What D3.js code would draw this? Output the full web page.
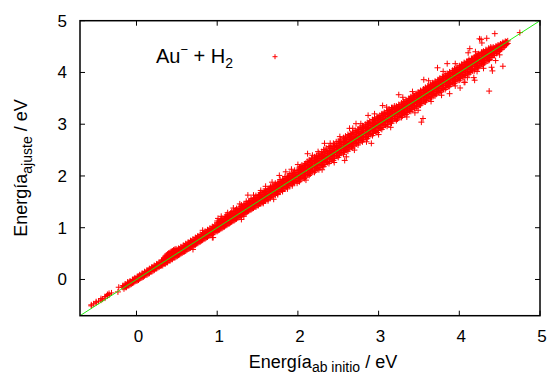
<!DOCTYPE html>
<html>
<head>
<meta charset="utf-8">
<script src="https://cdn.jsdelivr.net/npm/d3@7/dist/d3.min.js"></script>
<style>
  body { margin: 0; background: #fff; }
  text { font-family: "Liberation Sans", Arial, sans-serif; fill: #000; }
</style>
</head>
<body>
<svg id="chart" width="549" height="374"></svg>
<script>
// axis ticks
const xTicks = [0, 1, 2, 3, 4, 5];
const yTicks = [0, 1, 2, 3, 4, 5];
const domain = [-0.7, 5];
const diagonal = [-0.7, 5];

// dense band, one row per ab initio energy: [abInitio, ajuste, ajuste, ...]
const bandRows = [
  [-0.56, -0.51, -0.49], [-0.53, -0.47], [-0.50, -0.45, -0.43], [-0.47, -0.42],
  [-0.44, -0.40, -0.37], [-0.42, -0.38], [-0.39, -0.33, -0.36], [-0.36, -0.31, -0.29],
  [-0.34, -0.27, -0.30], [-0.31, -0.26],
  [-0.17, -0.15, -0.12], [-0.14, -0.12, -0.09, -0.15], [-0.11, -0.08, -0.12, -0.05],
  [-0.08, -0.06, -0.10, -0.03], [-0.05, -0.02, -0.07, 0.00], [-0.02, 0.01, -0.04, 0.03],
  [0.01, 0.03, -0.02, 0.06], [0.04, 0.06, 0.01, 0.09, 0.03], [0.07, 0.09, 0.04, 0.12],
  [0.10, 0.12, 0.07, 0.15, 0.09], [0.13, 0.14, 0.09, 0.18], [0.16, 0.17, 0.12, 0.21, 0.15],
  [0.19, 0.21, 0.15, 0.24], [0.22, 0.23, 0.18, 0.27, 0.20], [0.25, 0.27, 0.21, 0.30],
  [0.28, 0.30, 0.24, 0.33, 0.27], [0.31, 0.33, 0.27, 0.37, 0.29], [0.34, 0.37, 0.30, 0.41, 0.33],
  [0.37, 0.40, 0.33, 0.44, 0.47], [0.40, 0.44, 0.36, 0.48, 0.51, 0.41],
  [0.43, 0.47, 0.39, 0.52, 0.54, 0.44], [0.46, 0.49, 0.42, 0.54, 0.57, 0.46],
  [0.49, 0.52, 0.44, 0.56, 0.59, 0.50], [0.52, 0.55, 0.47, 0.60, 0.53], [0.55, 0.57, 0.50, 0.63, 0.54],
  [0.58, 0.61, 0.53, 0.66, 0.57], [0.61, 0.63, 0.55, 0.69, 0.60], [0.64, 0.67, 0.59, 0.72, 0.63],
  [0.67, 0.70, 0.61, 0.75, 0.66, 0.73], [0.70, 0.72, 0.64, 0.78, 0.69], [0.73, 0.76, 0.67, 0.81, 0.72],
  [0.76, 0.78, 0.70, 0.84, 0.75, 0.82], [0.79, 0.82, 0.73, 0.87, 0.78], [0.82, 0.84, 0.76, 0.90, 0.81, 0.95],
  [0.85, 0.88, 0.79, 0.93, 0.84], [0.88, 0.90, 0.82, 0.96, 0.87], [0.91, 0.94, 0.85, 0.99, 0.90],
  [0.94, 0.96, 0.87, 1.02, 0.93, 0.81], [0.97, 1.00, 0.91, 1.05, 0.96],
  [1.00, 1.03, 0.93, 1.09, 0.99, 1.13], [1.03, 1.06, 0.96, 1.12, 1.02], [1.06, 1.09, 0.99, 1.15, 1.05, 1.18],
  [1.09, 1.12, 1.02, 1.18, 1.08], [1.12, 1.15, 1.05, 1.21, 1.11, 1.25], [1.15, 1.18, 1.08, 1.24, 1.14],
  [1.18, 1.21, 1.11, 1.28, 1.17, 1.31], [1.21, 1.24, 1.14, 1.31, 1.20], [1.24, 1.27, 1.17, 1.34, 1.23, 1.37],
  [1.27, 1.30, 1.20, 1.37, 1.26], [1.30, 1.34, 1.23, 1.41, 1.29, 1.44], [1.33, 1.37, 1.26, 1.44, 1.32, 1.22],
  [1.36, 1.40, 1.29, 1.47, 1.35, 1.51], [1.39, 1.43, 1.32, 1.50, 1.38], [1.42, 1.46, 1.35, 1.53, 1.41, 1.56],
  [1.45, 1.49, 1.38, 1.56, 1.44], [1.48, 1.52, 1.40, 1.59, 1.47, 1.62], [1.51, 1.55, 1.43, 1.62, 1.50],
  [1.54, 1.58, 1.46, 1.65, 1.53, 1.68], [1.57, 1.61, 1.49, 1.68, 1.56, 1.47], [1.60, 1.64, 1.52, 1.71, 1.59, 1.75],
  [1.63, 1.67, 1.55, 1.74, 1.62, 1.52], [1.66, 1.70, 1.58, 1.77, 1.65, 1.80], [1.69, 1.73, 1.61, 1.80, 1.68],
  [1.72, 1.76, 1.63, 1.83, 1.71, 1.86], [1.75, 1.79, 1.66, 1.86, 1.74, 1.64], [1.78, 1.82, 1.69, 1.89, 1.77, 1.93],
  [1.81, 1.85, 1.72, 1.92, 1.80, 1.70], [1.84, 1.88, 1.75, 1.95, 1.83, 1.99], [1.87, 1.91, 1.78, 1.98, 1.86, 1.75],
  [1.90, 1.94, 1.81, 2.01, 1.89, 2.05], [1.93, 1.97, 1.84, 2.04, 1.92, 1.81], [1.96, 2.00, 1.87, 2.07, 1.95, 2.11],
  [1.99, 2.03, 1.90, 2.10, 1.98, 1.86],
  [2.02, 2.07, 1.94, 2.13, 2.00, 2.17, 1.89], [2.05, 2.08, 1.97, 2.15, 2.05, 2.21],
  [2.08, 2.12, 1.98, 2.20, 2.06, 2.23, 1.95], [2.115, 2.14, 2.03, 2.22, 2.11, 2.28],
  [2.14, 2.19, 2.04, 2.26, 2.12, 2.31, 2.01], [2.17, 2.20, 2.09, 2.29, 2.17, 2.34],
  [2.205, 2.25, 2.10, 2.30, 2.19, 2.37, 2.07], [2.23, 2.28, 2.15, 2.35, 2.21, 2.39],
  [2.26, 2.29, 2.16, 2.38, 2.26, 2.44, 2.12], [2.295, 2.34, 2.21, 2.40, 2.28, 2.47],
  [2.32, 2.37, 2.22, 2.45, 2.30, 2.51, 2.18], [2.35, 2.38, 2.27, 2.48, 2.35, 2.54],
  [2.385, 2.43, 2.28, 2.49, 2.37, 2.57, 2.24], [2.41, 2.46, 2.33, 2.54, 2.40, 2.58],
  [2.44, 2.47, 2.34, 2.57, 2.44, 2.63, 2.30], [2.475, 2.52, 2.39, 2.58, 2.46, 2.66],
  [2.50, 2.55, 2.40, 2.63, 2.49, 2.67, 2.36], [2.53, 2.56, 2.45, 2.66, 2.53, 2.71],
  [2.565, 2.61, 2.46, 2.67, 2.55, 2.74, 2.42], [2.59, 2.64, 2.51, 2.72, 2.58, 2.77],
  [2.62, 2.65, 2.52, 2.75, 2.62, 2.80, 2.48], [2.655, 2.70, 2.57, 2.76, 2.64, 2.82],
  [2.68, 2.73, 2.58, 2.81, 2.67, 2.85, 2.54], [2.71, 2.74, 2.63, 2.84, 2.71, 2.88],
  [2.745, 2.79, 2.64, 2.85, 2.73, 2.91, 2.60], [2.77, 2.82, 2.69, 2.90, 2.76, 2.94],
  [2.80, 2.83, 2.70, 2.93, 2.80, 2.97, 2.66], [2.835, 2.88, 2.75, 2.94, 2.82, 3.00],
  [2.86, 2.91, 2.76, 2.99, 2.85, 3.03, 2.72], [2.89, 2.92, 2.81, 3.02, 2.89, 3.06],
  [2.925, 2.97, 2.82, 3.03, 2.91, 3.09, 2.78], [2.95, 3.00, 2.87, 3.08, 2.94, 3.12],
  [2.98, 3.01, 2.88, 3.11, 2.98, 3.14, 2.84], [3.015, 3.06, 2.93, 3.12, 3.00, 3.17],
  [3.04, 3.09, 2.94, 3.17, 3.03, 3.20, 2.90], [3.07, 3.10, 2.99, 3.20, 3.07, 3.23],
  [3.105, 3.15, 3.00, 3.21, 3.09, 3.26, 2.96], [3.13, 3.18, 3.05, 3.26, 3.12, 3.29],
  [3.16, 3.19, 3.06, 3.29, 3.16, 3.32, 3.02], [3.195, 3.24, 3.11, 3.30, 3.18, 3.35],
  [3.22, 3.25, 3.10, 3.31, 3.21, 3.35, 3.07], [3.25, 3.29, 3.15, 3.34, 3.24, 3.38],
  [3.285, 3.31, 3.17, 3.38, 3.27, 3.41, 3.13], [3.31, 3.35, 3.21, 3.40, 3.30, 3.44],
  [3.34, 3.37, 3.23, 3.44, 3.33, 3.47, 3.19], [3.375, 3.42, 3.27, 3.46, 3.36, 3.50],
  [3.40, 3.43, 3.29, 3.50, 3.39, 3.53, 3.25], [3.43, 3.47, 3.33, 3.52, 3.42, 3.56],
  [3.465, 3.49, 3.35, 3.56, 3.45, 3.59, 3.31], [3.49, 3.53, 3.39, 3.58, 3.48, 3.62],
  [3.52, 3.55, 3.41, 3.62, 3.51, 3.65, 3.37], [3.555, 3.60, 3.45, 3.64, 3.54, 3.68],
  [3.58, 3.61, 3.47, 3.68, 3.57, 3.71, 3.43], [3.61, 3.65, 3.51, 3.70, 3.60, 3.74],
  [3.645, 3.67, 3.53, 3.74, 3.63, 3.77, 3.49], [3.67, 3.71, 3.57, 3.76, 3.66, 3.80],
  [3.70, 3.73, 3.59, 3.80, 3.69, 3.83, 3.55], [3.735, 3.78, 3.63, 3.82, 3.72, 3.86],
  [3.76, 3.79, 3.65, 3.86, 3.75, 3.89, 3.61], [3.79, 3.83, 3.69, 3.88, 3.78, 3.92],
  [3.825, 3.85, 3.71, 3.92, 3.81, 3.95, 3.67], [3.85, 3.89, 3.75, 3.94, 3.84, 3.98],
  [3.88, 3.91, 3.77, 3.98, 3.87, 4.01, 3.73], [3.915, 3.96, 3.81, 4.00, 3.90, 4.04],
  [3.94, 3.97, 3.83, 4.04, 3.93, 4.07, 3.79], [3.97, 4.01, 3.87, 4.06, 3.96, 4.10],
  [4.005, 4.03, 3.89, 4.10, 3.99, 4.13, 3.85], [4.03, 4.07, 3.93, 4.12, 4.02, 4.16],
  [4.06, 4.09, 3.95, 4.16, 4.05, 4.19, 3.91], [4.095, 4.14, 3.99, 4.18, 4.08, 4.22],
  [4.12, 4.15, 4.01, 4.22, 4.11, 4.25, 3.97], [4.15, 4.19, 4.05, 4.24, 4.14, 4.27],
  [4.185, 4.21, 4.07, 4.28, 4.17, 4.30, 4.03], [4.21, 4.25, 4.11, 4.30, 4.20, 4.33],
  [4.24, 4.27, 4.13, 4.34, 4.23, 4.36, 4.09], [4.275, 4.32, 4.17, 4.36, 4.26, 4.39],
  [4.30, 4.33, 4.19, 4.39, 4.29, 4.41, 4.16], [4.33, 4.37, 4.24, 4.41, 4.32, 4.44],
  [4.365, 4.39, 4.26, 4.44, 4.35, 4.47, 4.23], [4.39, 4.42, 4.30, 4.46, 4.38, 4.49],
  [4.42, 4.45, 4.33, 4.49, 4.41, 4.37], [4.455, 4.48, 4.37, 4.51, 4.44],
  [4.48, 4.50, 4.40, 4.53, 4.46], [4.51, 4.53, 4.44, 4.55, 4.49],
  [4.54, 4.56, 4.48, 4.58], [4.57, 4.58, 4.52, 4.60], [4.60, 4.61, 4.56]
];

// more band points between the rows above (same layout)
const bandFillRows = [
  [-0.155, -0.18, -0.14, -0.12], [-0.125, -0.15, -0.11], [-0.095, -0.12, -0.09, -0.06], [-0.065, -0.09, -0.05],
  [-0.035, -0.06, -0.03, 0.00], [-0.005, -0.03, 0.01], [0.025, -0.01, 0.02, 0.06], [0.055, 0.03, 0.07],
  [0.085, 0.05, 0.08, 0.11], [0.115, 0.09, 0.12], [0.145, 0.11, 0.15, 0.18], [0.175, 0.15, 0.19],
  [0.205, 0.17, 0.21, 0.24], [0.235, 0.21, 0.25], [0.265, 0.23, 0.27, 0.30], [0.295, 0.26, 0.31],
  [0.325, 0.27, 0.31, 0.35, 0.38], [0.355, 0.30, 0.34, 0.38, 0.42, 0.45], [0.385, 0.33, 0.37, 0.42, 0.46, 0.49],
  [0.415, 0.36, 0.40, 0.45, 0.49, 0.52], [0.445, 0.39, 0.43, 0.48, 0.52, 0.55], [0.475, 0.42, 0.46, 0.51, 0.55, 0.58],
  [0.505, 0.45, 0.49, 0.53, 0.57], [0.535, 0.48, 0.52, 0.56, 0.59], [0.565, 0.51, 0.55, 0.59, 0.62],
  [0.595, 0.54, 0.58, 0.62, 0.65], [0.625, 0.57, 0.61, 0.65, 0.68], [0.655, 0.60, 0.64, 0.68, 0.71],
  [0.685, 0.63, 0.67, 0.71, 0.74], [0.715, 0.66, 0.70, 0.74, 0.77], [0.745, 0.69, 0.73, 0.77, 0.80],
  [0.775, 0.72, 0.76, 0.80, 0.83], [0.805, 0.75, 0.79, 0.83, 0.86], [0.835, 0.78, 0.82, 0.86, 0.89],
  [0.865, 0.81, 0.85, 0.89, 0.92], [0.895, 0.84, 0.88, 0.92, 0.95], [0.925, 0.87, 0.91, 0.95, 0.98],
  [0.955, 0.90, 0.94, 0.98, 1.01], [0.985, 0.93, 0.97, 1.01, 1.04],
  [1.015, 0.95, 0.99, 1.03, 1.07, 1.10], [1.045, 0.98, 1.02, 1.06, 1.10, 1.13, 1.16],
  [1.075, 1.01, 1.05, 1.09, 1.13, 1.16], [1.105, 1.04, 1.08, 1.12, 1.16, 1.19, 1.22],
  [1.135, 1.07, 1.11, 1.15, 1.19, 1.22], [1.165, 1.10, 1.14, 1.18, 1.22, 1.25, 1.28],
  [1.195, 1.13, 1.17, 1.21, 1.25, 1.28], [1.225, 1.16, 1.20, 1.24, 1.28, 1.31, 1.34],
  [1.255, 1.19, 1.23, 1.27, 1.31, 1.34], [1.285, 1.22, 1.26, 1.30, 1.34, 1.37, 1.40],
  [1.315, 1.25, 1.29, 1.33, 1.37, 1.40], [1.345, 1.28, 1.32, 1.36, 1.40, 1.43, 1.46],
  [1.375, 1.31, 1.35, 1.39, 1.43, 1.46], [1.405, 1.34, 1.38, 1.42, 1.46, 1.49, 1.52],
  [1.435, 1.37, 1.41, 1.45, 1.49, 1.52], [1.465, 1.40, 1.44, 1.48, 1.52, 1.55, 1.58],
  [1.495, 1.43, 1.47, 1.51, 1.55, 1.58], [1.525, 1.46, 1.50, 1.54, 1.58, 1.61, 1.64],
  [1.555, 1.49, 1.53, 1.57, 1.61, 1.64], [1.585, 1.52, 1.56, 1.60, 1.64, 1.67, 1.70],
  [1.615, 1.55, 1.59, 1.63, 1.67, 1.70], [1.645, 1.58, 1.62, 1.66, 1.70, 1.73, 1.76],
  [1.675, 1.61, 1.65, 1.69, 1.73, 1.76], [1.705, 1.64, 1.68, 1.72, 1.76, 1.79, 1.82],
  [1.735, 1.67, 1.71, 1.75, 1.79, 1.82], [1.765, 1.70, 1.74, 1.78, 1.82, 1.85, 1.88],
  [1.795, 1.73, 1.77, 1.81, 1.85, 1.88], [1.825, 1.76, 1.80, 1.84, 1.88, 1.91, 1.94],
  [1.855, 1.79, 1.83, 1.87, 1.91, 1.94], [1.885, 1.82, 1.86, 1.90, 1.94, 1.97, 2.00],
  [1.915, 1.85, 1.89, 1.93, 1.97, 2.00], [1.945, 1.88, 1.92, 1.96, 2.00, 2.03, 2.06],
  [1.975, 1.91, 1.95, 1.99, 2.03, 2.06],
  [2.005, 1.90, 1.95, 1.99, 2.03, 2.07, 2.11], [2.035, 1.92, 1.98, 2.02, 2.06, 2.10, 2.14, 2.18],
  [2.065, 1.96, 2.01, 2.05, 2.09, 2.13, 2.17], [2.095, 1.98, 2.04, 2.08, 2.12, 2.16, 2.20, 2.24],
  [2.125, 2.02, 2.07, 2.11, 2.15, 2.19, 2.23], [2.155, 2.04, 2.10, 2.14, 2.18, 2.22, 2.26, 2.30],
  [2.185, 2.08, 2.13, 2.17, 2.21, 2.25, 2.29], [2.215, 2.10, 2.16, 2.20, 2.24, 2.28, 2.32, 2.36],
  [2.245, 2.14, 2.19, 2.23, 2.27, 2.31, 2.35], [2.275, 2.16, 2.22, 2.26, 2.30, 2.34, 2.38, 2.42],
  [2.305, 2.20, 2.25, 2.29, 2.33, 2.37, 2.41], [2.335, 2.22, 2.28, 2.32, 2.36, 2.40, 2.44, 2.48],
  [2.365, 2.26, 2.31, 2.35, 2.39, 2.43, 2.47], [2.395, 2.28, 2.34, 2.38, 2.42, 2.46, 2.50, 2.54],
  [2.425, 2.32, 2.37, 2.41, 2.45, 2.49, 2.53], [2.455, 2.34, 2.40, 2.44, 2.48, 2.52, 2.56, 2.60],
  [2.485, 2.38, 2.43, 2.47, 2.51, 2.55, 2.59], [2.515, 2.40, 2.46, 2.50, 2.54, 2.58, 2.62, 2.66],
  [2.545, 2.44, 2.49, 2.53, 2.57, 2.61, 2.65], [2.575, 2.46, 2.52, 2.56, 2.60, 2.64, 2.68, 2.72],
  [2.605, 2.50, 2.55, 2.59, 2.63, 2.67, 2.71], [2.635, 2.52, 2.58, 2.62, 2.66, 2.70, 2.74, 2.78],
  [2.665, 2.56, 2.61, 2.65, 2.69, 2.73, 2.77], [2.695, 2.58, 2.64, 2.68, 2.72, 2.76, 2.80, 2.84],
  [2.725, 2.62, 2.67, 2.71, 2.75, 2.79, 2.83], [2.755, 2.64, 2.70, 2.74, 2.78, 2.82, 2.86, 2.90],
  [2.785, 2.68, 2.73, 2.77, 2.81, 2.85, 2.89], [2.815, 2.70, 2.76, 2.80, 2.84, 2.88, 2.92, 2.96],
  [2.845, 2.74, 2.79, 2.83, 2.87, 2.91, 2.95], [2.875, 2.76, 2.82, 2.86, 2.90, 2.94, 2.98, 3.02],
  [2.905, 2.80, 2.85, 2.89, 2.93, 2.97, 3.01], [2.935, 2.82, 2.88, 2.92, 2.96, 3.00, 3.04, 3.08],
  [2.965, 2.86, 2.91, 2.95, 2.99, 3.03, 3.07], [2.995, 2.88, 2.94, 2.98, 3.02, 3.06, 3.10, 3.14],
  [3.025, 2.92, 2.97, 3.01, 3.05, 3.09, 3.13], [3.055, 2.94, 3.00, 3.04, 3.08, 3.12, 3.16, 3.20],
  [3.085, 2.98, 3.03, 3.07, 3.11, 3.15, 3.19], [3.115, 3.00, 3.06, 3.10, 3.14, 3.18, 3.22, 3.26],
  [3.145, 3.04, 3.09, 3.13, 3.17, 3.21, 3.25], [3.175, 3.06, 3.12, 3.16, 3.20, 3.24, 3.28, 3.32],
  [3.205, 3.10, 3.15, 3.19, 3.23, 3.27, 3.31],
  [3.235, 3.10, 3.15, 3.19, 3.23, 3.27, 3.31], [3.265, 3.13, 3.18, 3.22, 3.26, 3.30, 3.34, 3.37],
  [3.295, 3.16, 3.21, 3.25, 3.29, 3.33, 3.37], [3.325, 3.19, 3.24, 3.28, 3.32, 3.36, 3.40, 3.43],
  [3.355, 3.22, 3.27, 3.31, 3.35, 3.39, 3.43], [3.385, 3.25, 3.30, 3.34, 3.38, 3.42, 3.46, 3.49],
  [3.415, 3.28, 3.33, 3.37, 3.41, 3.45, 3.49], [3.445, 3.31, 3.36, 3.40, 3.44, 3.48, 3.52, 3.55],
  [3.475, 3.34, 3.39, 3.43, 3.47, 3.51, 3.55], [3.505, 3.37, 3.42, 3.46, 3.50, 3.54, 3.58, 3.61],
  [3.535, 3.40, 3.45, 3.49, 3.53, 3.57, 3.61], [3.565, 3.43, 3.48, 3.52, 3.56, 3.60, 3.64, 3.67],
  [3.595, 3.46, 3.51, 3.55, 3.59, 3.63, 3.67], [3.625, 3.49, 3.54, 3.58, 3.62, 3.66, 3.70, 3.73],
  [3.655, 3.52, 3.57, 3.61, 3.65, 3.69, 3.73], [3.685, 3.55, 3.60, 3.64, 3.68, 3.72, 3.76, 3.79],
  [3.715, 3.58, 3.63, 3.67, 3.71, 3.75, 3.79], [3.745, 3.61, 3.66, 3.70, 3.74, 3.78, 3.82, 3.85],
  [3.775, 3.64, 3.69, 3.73, 3.77, 3.81, 3.85], [3.805, 3.67, 3.72, 3.76, 3.80, 3.84, 3.88, 3.91],
  [3.835, 3.70, 3.75, 3.79, 3.83, 3.87, 3.91], [3.865, 3.73, 3.78, 3.82, 3.86, 3.90, 3.94, 3.97],
  [3.895, 3.76, 3.81, 3.85, 3.89, 3.93, 3.97], [3.925, 3.79, 3.84, 3.88, 3.92, 3.96, 4.00, 4.03],
  [3.955, 3.82, 3.87, 3.91, 3.95, 3.99, 4.03], [3.985, 3.85, 3.90, 3.94, 3.98, 4.02, 4.06, 4.09],
  [4.015, 3.88, 3.93, 3.97, 4.01, 4.05, 4.09], [4.045, 3.91, 3.96, 4.00, 4.04, 4.08, 4.12, 4.15],
  [4.075, 3.94, 3.99, 4.03, 4.07, 4.11, 4.15], [4.105, 3.97, 4.02, 4.06, 4.10, 4.14, 4.18, 4.21],
  [4.135, 4.00, 4.05, 4.09, 4.13, 4.17, 4.21], [4.165, 4.03, 4.08, 4.12, 4.16, 4.20, 4.24, 4.27],
  [4.195, 4.06, 4.11, 4.15, 4.19, 4.23, 4.27], [4.225, 4.09, 4.14, 4.18, 4.22, 4.26, 4.30, 4.33],
  [4.255, 4.12, 4.17, 4.21, 4.25, 4.29, 4.33], [4.285, 4.15, 4.20, 4.24, 4.28, 4.32, 4.36, 4.39],
  [4.315, 4.18, 4.23, 4.27, 4.31, 4.35, 4.39], [4.345, 4.22, 4.26, 4.30, 4.34, 4.38, 4.42],
  [4.375, 4.25, 4.29, 4.33, 4.37, 4.41, 4.44], [4.405, 4.29, 4.33, 4.36, 4.40, 4.44, 4.47],
  [4.435, 4.33, 4.36, 4.39, 4.43, 4.47], [4.465, 4.37, 4.40, 4.43, 4.46, 4.49],
  [4.495, 4.41, 4.44, 4.47, 4.50, 4.52], [4.525, 4.45, 4.48, 4.51, 4.54],
  [4.555, 4.49, 4.52, 4.55, 4.57], [4.585, 4.54, 4.56, 4.59]
];

// scattered points away from the band
const outlierAbInitio = [-0.23, -0.22, 0.95, 1.01, 1.13, 1.38, 1.54, 1.77, 1.85, 2.12, 2.33, 2.58, 2.60,
  2.64, 2.72, 2.87, 2.91, 3.05, 3.25, 3.49, 3.53, 3.55, 3.56, 3.73, 3.85, 3.88, 3.88, 4.01, 4.06,
  4.07, 4.11, 4.13, 4.18, 4.19, 4.25, 4.27, 4.28, 4.34, 4.37, 4.40, 4.41, 4.44, 4.45, 4.54, 4.75,
  1.05, 1.20, 1.28, 1.45, 1.60, 1.68, 1.92, 2.00, 2.18, 2.25, 2.40, 2.52, 2.68, 2.78, 2.95, 3.10,
  3.30, 3.42, 3.62, 3.80, 3.95, 4.20,
  0.70, 1.30, 1.70, 2.10, 2.30, 2.45, 2.70, 2.85, 3.00, 3.15, 3.35, 3.45, 3.65, 3.78, 3.95, 4.10,
  4.22, 4.30, 4.50];
const outlierAjuste = [-0.24, -0.15, 0.81, 1.18, 1.29, 1.63, 1.72, 2.01, 2.08, 2.43, 2.63, 2.30, 2.37,
  2.92, 3.01, 3.17, 2.63, 3.36, 3.57, 3.27, 3.04, 3.11, 3.86, 4.09, 4.17, 3.78, 3.59, 3.70, 3.81,
  3.81, 4.38, 4.46, 3.90, 3.85, 4.65, 4.64, 4.57, 4.66, 3.64, 4.10, 4.03, 4.75, 4.23, 4.12, 4.77,
  1.22, 1.38, 1.46, 1.63, 1.80, 1.88, 2.13, 2.22, 2.40, 2.47, 2.63, 2.76, 2.92, 3.01, 3.20, 3.33,
  3.52, 3.63, 3.84, 4.02, 4.17, 4.40,
  0.58, 1.16, 1.55, 1.92, 2.12, 2.26, 2.50, 2.66, 2.80, 2.94, 3.14, 3.22, 3.44, 3.56, 3.74, 3.90,
  4.02, 4.08, 4.34];

const points = [];
bandRows.concat(bandFillRows).forEach(r => r.slice(1).forEach(v => points.push([r[0], v])));
outlierAbInitio.forEach((v, i) => points.push([v, outlierAjuste[i]]));

const svg = d3.select('#chart');
const pLeft = 80, pRight = 540, pTop = 20.7, pBottom = 315.7;
const x = d3.scaleLinear().domain(domain).range([pLeft, pRight]);
const y = d3.scaleLinear().domain(domain).range([pBottom, pTop]);

svg.append('clipPath').attr('id', 'plot')
  .append('rect').attr('x', pLeft).attr('y', pTop).attr('width', pRight - pLeft).attr('height', pBottom - pTop);

const plus = 'M-3,0H3M0,-3V3';
svg.append('g').attr('clip-path', 'url(#plot)')
  .selectAll('path').data(points).enter().append('path')
  .attr('d', plus)
  .attr('transform', d => `translate(${x(d[0])},${y(d[1])})`)
  .attr('fill', 'none').attr('stroke', '#ff0000').attr('stroke-width', 1);

svg.append('line').attr('clip-path', 'url(#plot)')
  .attr('x1', x(diagonal[0])).attr('y1', y(diagonal[0]))
  .attr('x2', x(diagonal[1])).attr('y2', y(diagonal[1]))
  .attr('stroke', '#22ee11').attr('stroke-width', 1);

// ticks (inside, mirrored)
const tl = 5;
const ticks = svg.append('g').attr('stroke', '#000').attr('stroke-width', 1);
xTicks.forEach(t => {
  ticks.append('line').attr('x1', x(t)).attr('x2', x(t)).attr('y1', pBottom).attr('y2', pBottom - tl);
  ticks.append('line').attr('x1', x(t)).attr('x2', x(t)).attr('y1', pTop).attr('y2', pTop + tl);
});
yTicks.forEach(t => {
  ticks.append('line').attr('y1', y(t)).attr('y2', y(t)).attr('x1', pLeft).attr('x2', pLeft + tl);
  ticks.append('line').attr('y1', y(t)).attr('y2', y(t)).attr('x1', pRight).attr('x2', pRight - tl);
});

svg.append('rect').attr('x', pLeft).attr('y', pTop).attr('width', pRight - pLeft).attr('height', pBottom - pTop)
  .attr('fill', 'none').attr('stroke', '#000').attr('stroke-width', 1.5);

svg.append('g').selectAll('text').data(xTicks).enter().append('text')
  .attr('x', d => x(d) + 2).attr('y', 342).attr('text-anchor', 'middle')
  .attr('font-size', 17).text(d => d);
svg.append('g').selectAll('text').data(yTicks).enter().append('text')
  .attr('x', 67).attr('y', d => y(d) + 6).attr('text-anchor', 'end')
  .attr('font-size', 17).text(d => d);

// axis titles
const xt = svg.append('text').attr('x', 323).attr('y', 368).attr('text-anchor', 'middle').attr('font-size', 18);
xt.append('tspan').text('Energía');
xt.append('tspan').attr('font-size', 14).attr('dy', 4).text('ab initio');
xt.append('tspan').attr('dy', -4).text(' / eV');

const yt = svg.append('text').attr('transform', 'translate(27,168) rotate(-90)')
  .attr('text-anchor', 'middle').attr('font-size', 18);
yt.append('tspan').text('Energía');
yt.append('tspan').attr('font-size', 14).attr('dy', 5).text('ajuste');
yt.append('tspan').attr('dy', -5).text(' / eV');

// legend
const lg = svg.append('text').attr('x', 156).attr('y', 63).attr('font-size', 20);
lg.append('tspan').text('Au');
lg.append('tspan').attr('font-size', 13).attr('dy', -9).text('−');
lg.append('tspan').attr('dy', 9).text(' + H');
lg.append('tspan').attr('font-size', 14).attr('dy', 5).text('2');
svg.append('path').attr('d', 'M-2.5,0H2.5M0,-2.5V2.5')
  .attr('transform', 'translate(275,56.7)')
  .attr('fill', 'none').attr('stroke', '#ff0000').attr('stroke-width', 1);
</script>
</body>
</html>
